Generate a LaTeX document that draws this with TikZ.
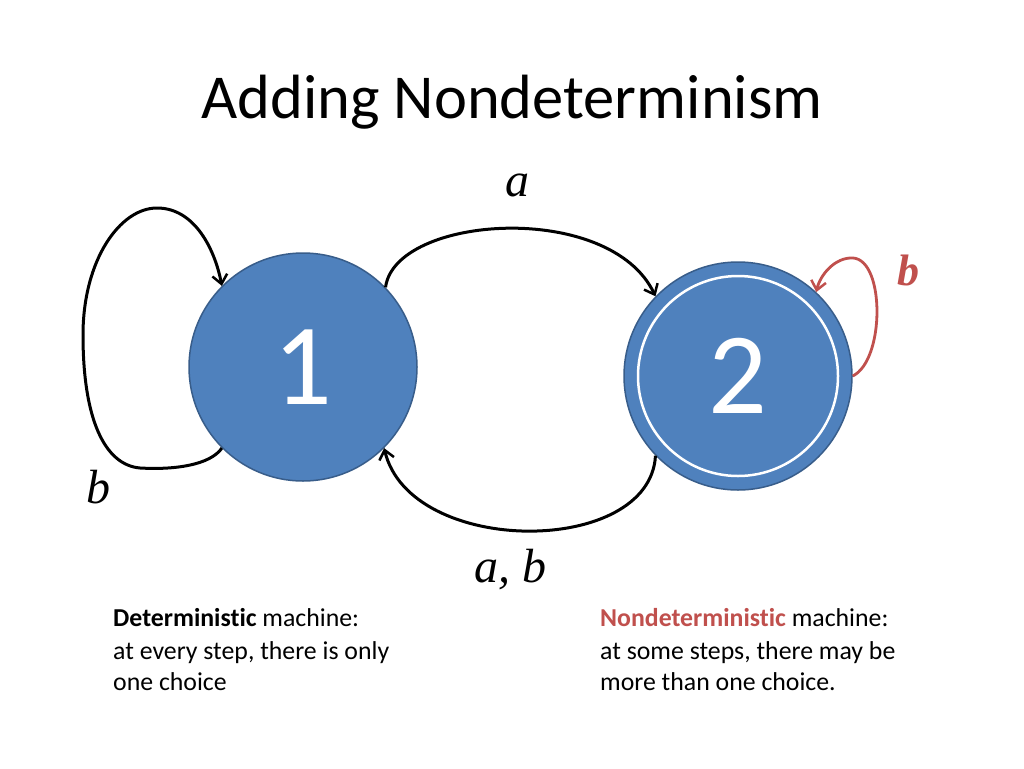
\documentclass[tikz,border=0pt]{standalone}
\usepackage{fontspec}
\setmainfont{Carlito}[Ligatures={NoCommon}]
\newfontfamily\tnr{Liberation Serif}
\usetikzlibrary{arrows.meta}
\definecolor{nodeblue}{HTML}{4F81BD}
\definecolor{nodeedge}{HTML}{385D8A}
\definecolor{accred}{HTML}{C0504D}
\begin{document}
\begin{tikzpicture}[x=1pt,y=-1pt,
  state/.style={circle,fill=nodeblue,draw=nodeedge,line width=1.5pt,minimum size=228pt,inner sep=0pt,text=white,font=\fontsize{116}{116}\selectfont},
  edge/.style={line width=3pt,-{Straight Barb[length=9pt,width=15pt,line width=2.5pt]}},
  lbl/.style={font=\tnr\itshape\fontsize{48}{48}\selectfont,inner sep=0pt},
  body/.style={anchor=base west,font=\fontsize{25.8}{25.8}\selectfont,inner sep=0pt}]
\useasboundingbox[fill=white] (0,0) rectangle (1024,768);
\node[anchor=base,font=\fontsize{62.5}{62.5}\selectfont,inner sep=0pt] (title) at (512,118) {Adding Nondeterminism};
\node[state] (n1) at (303,367) {1};
\node[state] (n2) at (738,376) {2};
\node[circle,draw=white,line width=2.5pt,minimum size=200pt,inner sep=0pt] (n2in) at (n2) {};
% self loop on 1
\draw[edge] (n1.225) .. controls (210,465) and (175,470) .. (140,468)
  .. controls (105,465) and (83,420) .. (83,335)
  .. controls (83,260) and (120,208) .. (157,208)
  .. controls (195,208) and (215,250) .. (n1.135);
% 1 -> 2 on a
\draw[edge] (n1.44) .. controls (395,215) and (610,200) .. (n2.136);
% 2 -> 1 on a,b
\draw[edge] (n2.224) .. controls (650,557) and (410,557) .. (n1.-45);
% red self loop on 2
\draw[edge,draw=accred,line width=2.8pt] (n2.0) .. controls (885,360) and (885,260) .. (853,258)
  .. controls (835,257) and (820,275) .. (n2.47);
\node[lbl] (la) at (517,185) {a};
\node[lbl] (lab) at (510,570) {a, b};
\node[lbl] (lb) at (98,487) {b};
\node[lbl,text=accred,font=\tnr\bfseries\itshape\fontsize{44}{44}\selectfont] (lbr) at (908,270) {b};
\node[body] (d1) at (113,626) {\textbf{Deterministic} machine:};
\node[body] (d2) at (113,659) {at every step, there is only};
\node[body] (d3) at (113,690) {one choice};
\node[body] (m1) at (600,626) {\textbf{\color{accred}Nondeterministic} machine:};
\node[body] (m2) at (600,659) {at some steps, there may be};
\node[body] (m3) at (600,690) {more than one choice.};
\end{tikzpicture}
\end{document}
